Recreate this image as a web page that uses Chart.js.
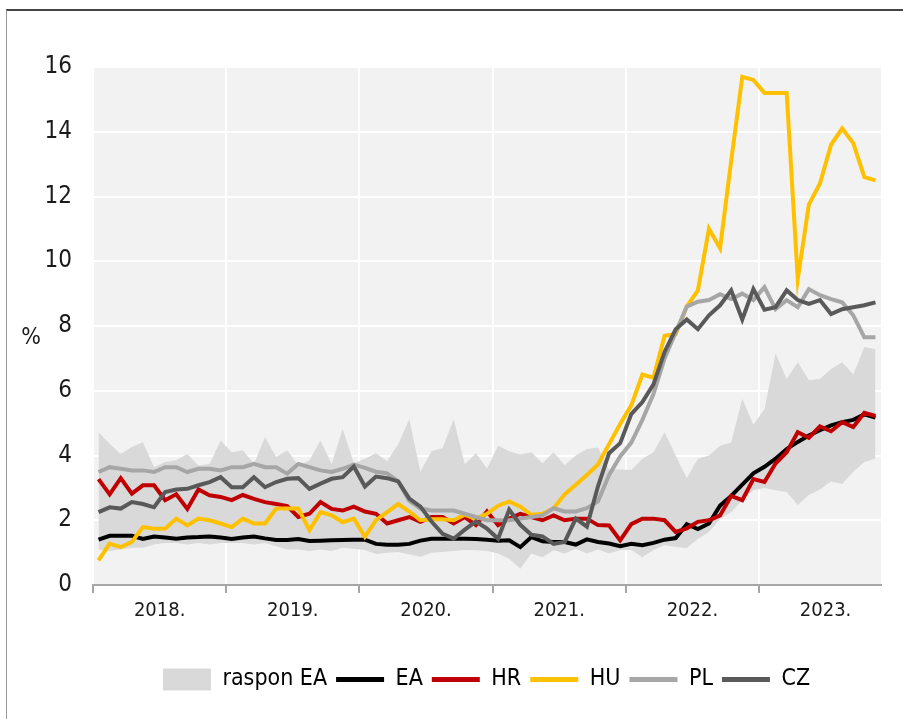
<!DOCTYPE html>
<html>
<head>
<meta charset="utf-8">
<script src="https://cdn.jsdelivr.net/npm/chart.js@4.4.1/dist/chart.umd.min.js"></script>
<style>
  html, body { margin: 0; padding: 0; background: #fff; }
  #wrap { position: relative; width: 903px; height: 719px; overflow: hidden; }
  #frame { position: absolute; left: 6px; top: 9px; width: 940px; height: 760px; border-top: 2px solid #444; border-left: 1px solid #999; }
  canvas { position: absolute; left: 0; top: 0; }
</style>
</head>
<body>
<div id="wrap">
  <div id="frame"></div>
  <canvas id="chart" width="903" height="719"></canvas>
</div>
<script>
(function () {
    // mjesečni podaci, siječanj 2018. - studeni 2023.
    const years = ['2018.', '2019.', '2020.', '2021.', '2022.', '2023.'];
    const monthCount = 71;
    const months = [];
    for (let i = 0; i < monthCount; i++) {
        months.push((i % 12 + 1) + '/' + (2018 + Math.floor(i / 12)));
    }

    const rangeLow = [
        1.10, 1.05, 1.10, 1.15, 1.15, 1.25, 1.30, 1.30, 1.25, 1.30, 1.25, 1.30,
        1.30, 1.30, 1.25, 1.30, 1.20, 1.10, 1.10, 1.05, 1.10, 1.05, 1.15, 1.12,
        1.08, 0.96, 1.00, 1.02, 0.95, 0.87, 1.00, 1.02, 1.05, 1.08, 1.07, 1.05,
        0.97, 0.81, 0.50, 0.97, 0.86, 1.07, 0.97, 1.12, 0.97, 1.10, 0.97, 1.08,
        1.08, 0.86, 1.08, 1.23, 1.17, 1.14, 1.42, 1.64, 2.04, 2.25, 2.62, 2.93,
        3.00, 2.93, 2.87, 2.47, 2.78, 2.95, 3.20, 3.12, 3.50, 3.80, 3.90
    ];
    const rangeHigh = [
        4.72, 4.36, 4.05, 4.26, 4.41, 3.64, 3.80, 3.85, 4.05, 3.69, 3.74, 4.46,
        4.10, 4.16, 3.74, 4.57, 3.95, 4.16, 3.69, 3.85, 4.46, 3.74, 4.83, 3.76,
        3.90, 4.07, 3.82, 4.35, 5.12, 3.50, 4.13, 4.23, 5.12, 3.72, 4.07, 3.60,
        4.30, 4.13, 4.03, 4.10, 3.76, 4.10, 3.70, 4.00, 4.20, 4.25, 3.57, 3.57,
        3.55, 3.90, 4.10, 4.72, 4.00, 3.30, 3.90, 4.00, 4.30, 4.40, 5.75, 4.95,
        5.43, 7.15, 6.36, 6.88, 6.33, 6.36, 6.67, 6.88, 6.50, 7.35, 7.28
    ];
    const ea = [
        1.40, 1.52, 1.52, 1.52, 1.42, 1.50, 1.47, 1.43, 1.47, 1.48, 1.50, 1.47,
        1.42, 1.47, 1.50, 1.44, 1.39, 1.39, 1.42, 1.36, 1.37, 1.38, 1.39, 1.40,
        1.40, 1.27, 1.24, 1.24, 1.27, 1.37, 1.43, 1.43, 1.43, 1.43, 1.42, 1.40,
        1.37, 1.38, 1.17, 1.48, 1.35, 1.33, 1.33, 1.25, 1.41, 1.33, 1.28, 1.20,
        1.27, 1.23, 1.30, 1.40, 1.45, 1.88, 1.73, 1.90, 2.45, 2.75, 3.10, 3.45,
        3.65, 3.90, 4.20, 4.42, 4.62, 4.78, 4.93, 5.03, 5.10, 5.27, 5.17
    ];
    const hr = [
        3.27, 2.80, 3.30, 2.82, 3.08, 3.08, 2.62, 2.80, 2.35, 2.95, 2.77, 2.72,
        2.62, 2.78, 2.66, 2.56, 2.50, 2.44, 2.10, 2.20, 2.56, 2.35, 2.30, 2.42,
        2.27, 2.20, 1.90, 2.00, 2.10, 1.95, 2.10, 2.10, 1.90, 2.10, 1.85, 2.27,
        1.85, 2.05, 2.20, 2.10, 2.00, 2.15, 2.00, 2.05, 2.05, 1.85, 1.84, 1.38,
        1.88, 2.05, 2.05, 2.00, 1.64, 1.75, 1.95, 2.00, 2.15, 2.75, 2.62, 3.27,
        3.18, 3.75, 4.10, 4.72, 4.55, 4.90, 4.75, 5.03, 4.88, 5.32, 5.22
    ];
    const hu = [
        0.76, 1.28, 1.17, 1.33, 1.79, 1.74, 1.74, 2.05, 1.84, 2.05, 2.00, 1.90,
        1.79, 2.05, 1.90, 1.90, 2.36, 2.36, 2.36, 1.69, 2.25, 2.15, 1.94, 2.05,
        1.49, 2.00, 2.25, 2.50, 2.27, 2.00, 2.03, 2.03, 2.00, 2.17, 2.05, 2.20,
        2.45, 2.58, 2.42, 2.17, 2.20, 2.37, 2.80, 3.10, 3.40, 3.72, 4.35, 4.97,
        5.55, 6.50, 6.40, 7.70, 7.75, 8.60, 9.10, 11.00, 10.40, 13.10, 15.70, 15.60,
        15.20, 15.20, 15.20, 9.45, 11.75, 12.40, 13.60, 14.10, 13.65, 12.60, 12.50
    ];
    const pl = [
        3.49, 3.64, 3.59, 3.54, 3.54, 3.49, 3.64, 3.64, 3.49, 3.59, 3.59, 3.54,
        3.64, 3.64, 3.74, 3.64, 3.64, 3.44, 3.74, 3.64, 3.54, 3.49, 3.59, 3.72,
        3.62, 3.50, 3.45, 3.20, 2.60, 2.36, 2.30, 2.30, 2.30, 2.20, 2.10, 2.00,
        2.00, 2.00, 2.05, 2.10, 2.15, 2.37, 2.27, 2.27, 2.37, 2.58, 3.40, 3.97,
        4.40, 5.10, 5.90, 7.00, 7.80, 8.60, 8.75, 8.80, 8.98, 8.83, 9.00, 8.80,
        9.20, 8.52, 8.80, 8.58, 9.14, 8.95, 8.83, 8.73, 8.33, 7.65, 7.65
    ];
    const cz = [
        2.25, 2.40, 2.36, 2.56, 2.50, 2.40, 2.87, 2.95, 2.97, 3.08, 3.18, 3.33,
        3.02, 3.02, 3.33, 3.02, 3.18, 3.28, 3.30, 2.97, 3.13, 3.28, 3.33, 3.66,
        3.04, 3.35, 3.30, 3.20, 2.67, 2.42, 1.96, 1.58, 1.43, 1.71, 1.96, 1.74,
        1.43, 2.33, 1.86, 1.55, 1.50, 1.27, 1.33, 2.05, 1.80, 3.05, 4.07, 4.38,
        5.28, 5.65, 6.20, 7.20, 7.90, 8.20, 7.90, 8.33, 8.64, 9.10, 8.20, 9.14,
        8.50, 8.58, 9.10, 8.80, 8.68, 8.80, 8.37, 8.52, 8.58, 8.64, 8.73
    ];

    const font = "'DejaVu Sans Condensed', 'DejaVu Sans', sans-serif";
    const textColor = '#1a1a1a';

    const plotBackground = {
        id: 'plotBackground',
        beforeDraw(chart) {
            const a = chart.chartArea;
            const ctx = chart.ctx;
            ctx.save();
            ctx.fillStyle = '#f2f2f2';
            ctx.fillRect(a.left, a.top, a.right - a.left, a.bottom - a.top);
            ctx.restore();
        }
    };

    const unitLabel = {
        id: 'unitLabel',
        afterDraw(chart) {
            const ctx = chart.ctx;
            ctx.save();
            ctx.font = '23px ' + font;
            ctx.fillStyle = textColor;
            ctx.textAlign = 'center';
            ctx.textBaseline = 'middle';
            ctx.fillText('%', 31, 338);
            ctx.restore();
        }
    };

    // legenda u originalu nije centrirana, pomakni je udesno
    const legendShift = {
        id: 'legendShift',
        afterLayout(chart) {
            chart.legend.left += 46;
            chart.legend.right += 46;
        }
    };

    function lineSet(label, values, color, order) {
        return {
            label: label,
            data: values,
            borderColor: color,
            backgroundColor: color,
            borderWidth: 4,
            pointRadius: 0,
            fill: false,
            order: order,
            legendStyle: 'line'
        };
    }

    const data = {
        labels: months,
        datasets: [
            {
                label: 'raspon EA min',
                data: rangeLow,
                borderColor: 'rgba(0,0,0,0)',
                borderWidth: 0,
                pointRadius: 0,
                fill: false,
                order: 10
            },
            {
                label: 'raspon EA',
                data: rangeHigh,
                borderColor: 'rgba(0,0,0,0)',
                backgroundColor: '#d9d9d9',
                borderWidth: 0,
                pointRadius: 0,
                fill: '-1',
                order: 9,
                legendStyle: 'rect'
            },
            lineSet('EA', ea, '#000000', 5),
            lineSet('HR', hr, '#c00000', 4),
            lineSet('HU', hu, '#ffc000', 3),
            lineSet('PL', pl, '#a6a6a6', 2),
            lineSet('CZ', cz, '#595959', 1)
        ]
    };

    new Chart(document.getElementById('chart'), {
        type: 'line',
        data: data,
        plugins: [plotBackground, unitLabel, legendShift],
        options: {
            responsive: false,
            animation: false,
            events: [],
            layout: { padding: { top: 67, right: 22, bottom: 18, left: 0 } },
            elements: { line: { tension: 0 } },
            scales: {
                x: {
                    type: 'category',
                    offset: true,
                    afterFit(scale) { scale.height = 74; },
                    border: { color: '#a6a6a6', width: 2 },
                    grid: {
                        offset: true,
                        lineWidth: 2,
                        tickLength: 8,
                        color: (c) => c.index % 12 === 0 ? '#ffffff' : 'rgba(0,0,0,0)',
                        tickColor: (c) => c.index % 12 === 0 ? '#a6a6a6' : 'rgba(0,0,0,0)'
                    },
                    ticks: {
                        autoSkip: false,
                        maxRotation: 0,
                        minRotation: 0,
                        padding: 6,
                        labelOffset: -5.5,
                        color: textColor,
                        font: { family: font, size: 20 },
                        callback: (value, index) => index % 12 === 6 ? years[Math.floor(index / 12)] : ''
                    }
                },
                y: {
                    min: 0,
                    max: 16,
                    afterFit(scale) { scale.width = 93; },
                    border: { display: false },
                    grid: {
                        lineWidth: 2,
                        drawTicks: false,
                        color: (c) => c.tick && c.tick.value === 0 ? 'rgba(0,0,0,0)' : '#ffffff'
                    },
                    ticks: {
                        stepSize: 2,
                        padding: 21,
                        color: textColor,
                        font: { family: font, size: 24 }
                    }
                }
            },
            plugins: {
                tooltip: { enabled: false },
                legend: {
                    position: 'bottom',
                    labels: {
                        usePointStyle: true,
                        pointStyleWidth: 48,
                        boxHeight: 22,
                        padding: 9,
                        color: textColor,
                        font: { family: font, size: 23 },
                        generateLabels(chart) {
                            return chart.data.datasets
                                .map((ds, i) => ({ ds: ds, i: i }))
                                .filter((o) => o.ds.legendStyle)
                                .map((o) => ({
                                    text: o.ds.label,
                                    fillStyle: o.ds.backgroundColor,
                                    strokeStyle: o.ds.borderColor,
                                    lineWidth: o.ds.legendStyle === 'line' ? 5 : 0,
                                    pointStyle: o.ds.legendStyle,
                                    hidden: false,
                                    datasetIndex: o.i
                                }));
                        }
                    }
                }
            }
        }
    });
})();
</script>
</body>
</html>
